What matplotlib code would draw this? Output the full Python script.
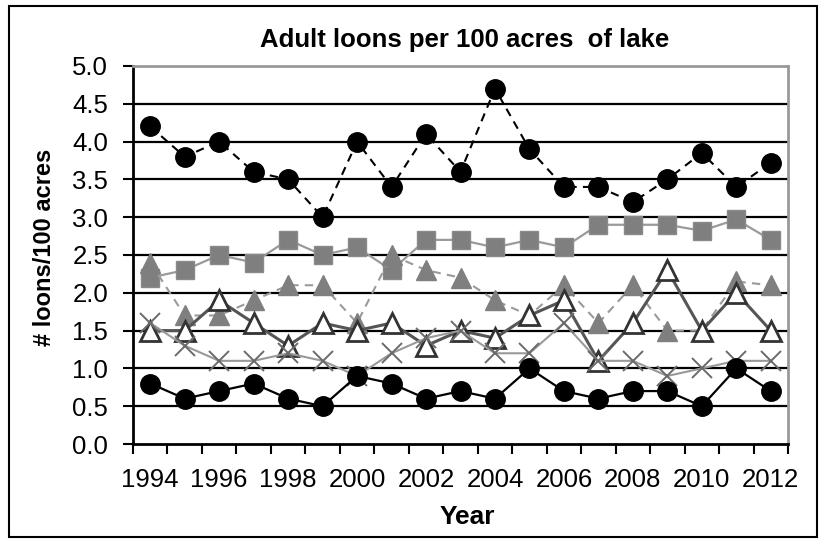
import matplotlib.pyplot as plt
import matplotlib.patches as patches
import numpy as np

plt.rcParams['font.family'] = ['Liberation Sans', 'DejaVu Sans']

years = list(range(1994, 2013))

# one list per lake group
high_dashed = [4.2, 3.8, 4.0, 3.6, 3.5, 3.0, 4.0, 3.4, 4.1, 3.6, 4.7,
               3.9, 3.4, 3.4, 3.2, 3.5, 3.85, 3.4, 3.72]
squares = [2.2, 2.3, 2.5, 2.4, 2.7, 2.5, 2.6, 2.3, 2.7, 2.7, 2.6,
           2.7, 2.6, 2.9, 2.9, 2.9, 2.82, 2.97, 2.7]
tri_filled = [2.4, 1.7, 1.7, 1.9, 2.1, 2.1, 1.6, 2.5, 2.3, 2.2, 1.9,
              1.7, 2.1, 1.6, 2.1, 1.5, 1.5, 2.15, 2.1]
tri_open = [1.5, 1.5, 1.9, 1.6, 1.3, 1.6, 1.5, 1.6, 1.3, 1.5, 1.4,
            1.7, 1.9, 1.1, 1.6, 2.3, 1.5, 2.0, 1.5]
crosses = [1.6, 1.3, 1.1, 1.1, 1.2, 1.1, 0.9, 1.2, 1.4, 1.5, 1.2,
           1.2, 1.6, 1.1, 1.1, 0.9, 1.0, 1.1, 1.1]
low_solid = [0.8, 0.6, 0.7, 0.8, 0.6, 0.5, 0.9, 0.8, 0.6, 0.7, 0.6,
             1.0, 0.7, 0.6, 0.7, 0.7, 0.5, 1.0, 0.7]

W, H = 825, 540
fig = plt.figure(figsize=(W / 100, H / 100), dpi=100)
ax = fig.add_axes([133 / W, 1 - 444 / H, 655 / W, 378 / H])

x = np.arange(len(years))

# horizontal gridlines
for g in np.arange(0.5, 5.0, 0.5):
    ax.axhline(g, color='black', lw=1.6, zorder=1)

ax.plot(x, high_dashed, color='black', ls=(0, (4, 3)), lw=1.5,
        marker='o', ms=14, mfc='black', mec='black', zorder=3)
ax.plot(x, squares, color='#9a9a9a', lw=1.6, marker='s', ms=12.5,
        mfc='#7f7f7f', mec='#8a8a8a', zorder=3)
ax.plot(x, tri_filled, color='#9a9a9a', ls=(0, (4, 3)), lw=1.5,
        marker='^', ms=14, mfc='#7f7f7f', mec='#7f7f7f', zorder=3)
ax.plot(x, tri_open, color='#555555', lw=2.2, marker='^', ms=14,
        mfc='white', mec='#333333', mew=2, zorder=4)
ax.plot(x, crosses, color='#999999', lw=1.5, marker='x', ms=15,
        mec='#6a6a6a', mew=1.4, zorder=4)
ax.plot(x, low_solid, color='black', lw=1.6, marker='o', ms=14,
        mfc='black', mec='black', zorder=5)

ax.set_xlim(-0.5, len(years) - 0.5)
ax.set_ylim(0, 5.0)
ax.set_yticks(np.arange(0, 5.01, 0.5))
ax.set_yticklabels(['%.1f' % v for v in np.arange(0, 5.01, 0.5)])
ax.set_xticks(np.arange(-0.5, len(years), 1.0))
ax.set_xticklabels([])
ax.set_xticks(x[::2], minor=True)
ax.set_xticklabels([str(y) for y in years[::2]], minor=True)
ax.tick_params(axis='x', which='minor', length=0, labelsize=18.5, pad=17)
ax.tick_params(axis='x', which='major', length=7, width=1.5, direction='out')
ax.tick_params(axis='y', length=7, width=1.5, labelsize=18.5, pad=11)

ax.spines['left'].set_linewidth(2)
ax.spines['bottom'].set_linewidth(2)
ax.spines['top'].set_color('#999999')
ax.spines['top'].set_linewidth(2)
ax.spines['right'].set_color('#999999')
ax.spines['right'].set_linewidth(2)

fig.text(465 / W, 1 - 40 / H, 'Adult loons per 100 acres  of lake',
         ha='center', va='center', fontsize=18.5, fontweight='bold')
fig.text(467 / W, 1 - 517 / H, 'Year', ha='center', va='center',
         fontsize=19, fontweight='bold')
fig.text(45 / W, 1 - 247 / H, '# loons/100 acres', ha='center', va='center',
         rotation=90, fontsize=17, fontweight='bold')

# chart border
fig.patches.append(patches.Rectangle((9 / W, 1 - 537 / H), 808 / W,
                                     531 / H, transform=fig.transFigure,
                                     fill=False, ec='black', lw=1.5))

fig.savefig('out.png', dpi=100)
